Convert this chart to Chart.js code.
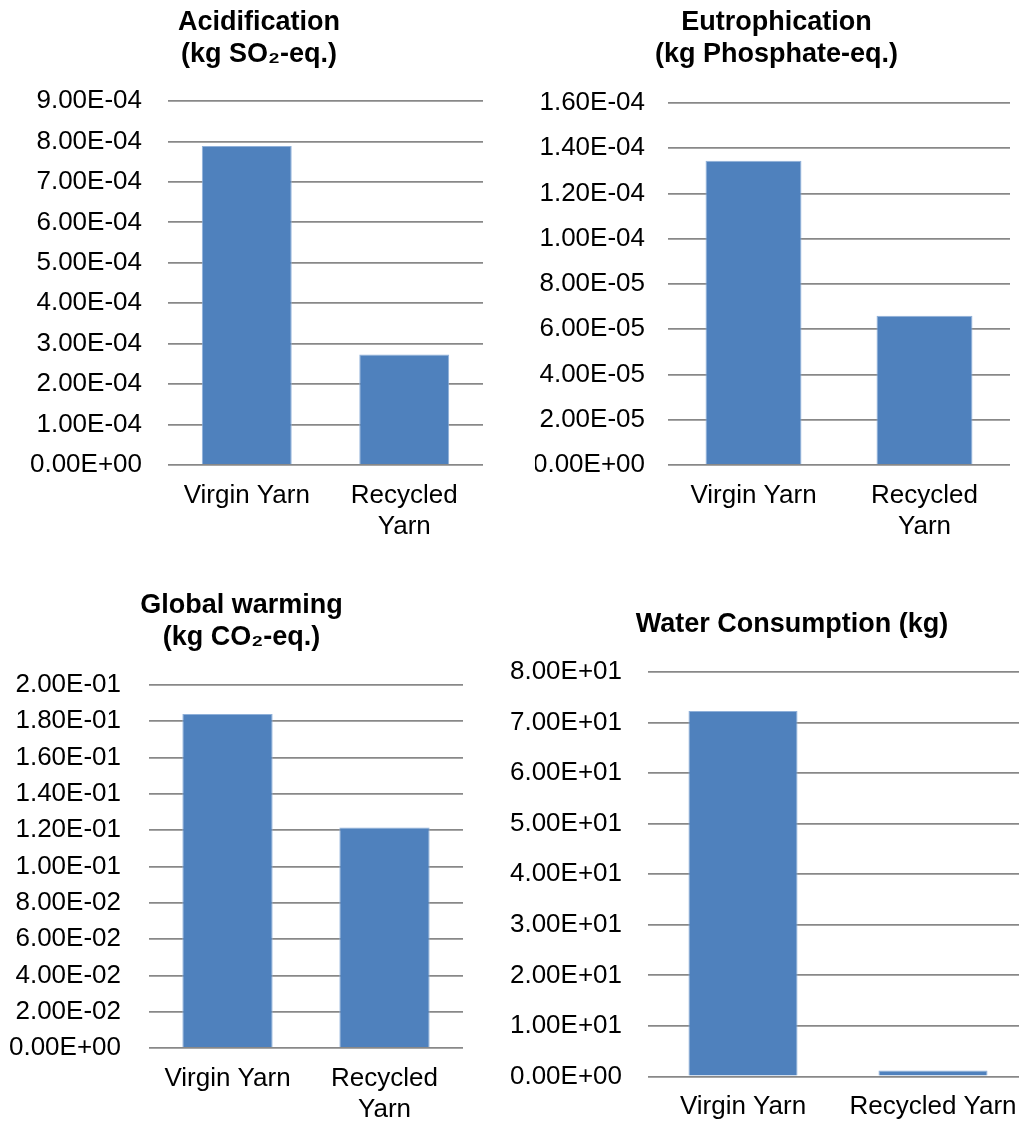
<!DOCTYPE html>
<html>
<head>
<meta charset="utf-8">
<title>Virgin vs Recycled Yarn – impact categories</title>
<script src="https://cdn.jsdelivr.net/npm/chart.js@4.4.1/dist/chart.umd.min.js"></script>
<style>
  html, body { margin: 0; padding: 0; background: #ffffff; overflow: hidden; }
  body { width: 1019px; height: 1124px; position: relative; }
  .panel { position: absolute; }
  .panel canvas { display: block; }
</style>
</head>
<body>
<div class="panel" style="left:0px;top:0px;width:516px;height:560px;"><canvas id="c1"></canvas></div>
<div class="panel" style="left:535px;top:0px;width:484px;height:560px;"><canvas id="c2"></canvas></div>
<div class="panel" style="left:0px;top:580px;width:483px;height:544px;"><canvas id="c3"></canvas></div>
<div class="panel" style="left:510px;top:580px;width:568px;height:544px;"><canvas id="c4"></canvas></div>
<script>
// Categories
const categories = ['Virgin Yarn', ['Recycled', 'Yarn']];
const categoriesWater = ['Virgin Yarn', 'Recycled Yarn'];

// Impact values per kg of yarn
const acidification = [7.89e-4, 2.73e-4];     // kg SO2-eq.
const eutrophication = [1.345e-4, 6.6e-5];    // kg Phosphate-eq.
const globalWarming = [0.184, 0.1215];        // kg CO2-eq.
const waterConsumption = [72.3, 1.2];         // kg

// Axis ranges: [min, max, step]
const acidAxis = [0, 9e-4, 1e-4];
const eutroAxis = [0, 1.6e-4, 2e-5];
const warmingAxis = [0, 0.2, 0.02];
const waterAxis = [0, 80, 10];

// Titles
const acidTitle = ['Acidification', '(kg SO\u2082-eq.)'];
const eutroTitle = ['Eutrophication', '(kg Phosphate-eq.)'];
const warmingTitle = ['Global warming', '(kg CO\u2082-eq.)'];
const waterTitle = 'Water Consumption (kg)';

const FONT = '"Liberation Sans", Arial, Helvetica, sans-serif';
const BAR_COLOR = '#4f81bd';
const GRID_COLOR = '#888888';

// Excel-style scientific notation, e.g. 9.00E-04
function sci(v) {
  if (Math.abs(v) < 1e-15) return '0.00E+00';
  const parts = Number(v).toExponential(2).split('e');
  const exp = parseInt(parts[1], 10);
  return parts[0] + 'E' + (exp < 0 ? '-' : '+') + String(Math.abs(exp)).padStart(2, '0');
}

// Moves the title block so it is centred on a given x position of the canvas
const titleCenter = {
  id: 'titleCenter',
  afterLayout(chart, args, opts) {
    const t = chart.titleBlock;
    if (!t || opts.x == null) return;
    const half = (t.right - t.left) / 2;
    t.left = opts.x - half;
    t.right = opts.x + half;
  }
};

function makeChart(canvasId, cfg) {
  const [min, max, step] = cfg.axis;
  return new Chart(document.getElementById(canvasId), {
    type: 'bar',
    plugins: [titleCenter],
    data: {
      labels: cfg.labels,
      datasets: [{
        data: cfg.values,
        backgroundColor: BAR_COLOR,
        borderColor: '#8fb0d9',
        borderWidth: 1,
        categoryPercentage: 1,
        barPercentage: cfg.barPct
      }]
    },
    options: {
      responsive: true,
      maintainAspectRatio: false,
      animation: false,
      layout: { padding: { left: 0, right: cfg.padRight, top: 0, bottom: 0 } },
      plugins: {
        legend: { display: false },
        tooltip: { enabled: false },
        titleCenter: { x: cfg.titleX },
        title: {
          display: true,
          text: cfg.title,
          color: '#000000',
          font: { family: FONT, size: 27, weight: 'bold', lineHeight: 1.2 },
          padding: { top: cfg.titleTop, bottom: cfg.titleBottom }
        }
      },
      scales: {
        x: {
          grid: { display: false, drawTicks: false },
          border: { display: false },
          ticks: {
            color: '#000000',
            font: { family: FONT, size: 26, lineHeight: 1.2 },
            padding: 15,
            maxRotation: 0,
            minRotation: 0,
            autoSkip: false
          },
          afterFit: (s) => { s.height = cfg.xHeight; s.paddingLeft = 0; s.paddingRight = 0; }
        },
        y: {
          min: min,
          max: max,
          grid: { color: GRID_COLOR, lineWidth: 1.8, drawTicks: false },
          border: { display: false },
          ticks: {
            stepSize: step,
            color: '#000000',
            font: { family: FONT, size: 26 },
            padding: cfg.tickPad,
            callback: (v) => sci(v)
          },
          afterFit: (s) => { s.width = cfg.yWidth; }
        }
      }
    }
  });
}

makeChart('c1', {
  labels: categories, values: acidification, axis: acidAxis, title: acidTitle,
  barPct: 0.571, padRight: 33, yWidth: 168, tickPad: 26, titleX: 259,
  titleTop: 6, titleBottom: 30.2, xHeight: 95
});
makeChart('c2', {
  labels: categories, values: eutrophication, axis: eutroAxis, title: eutroTitle,
  barPct: 0.561, padRight: 9, yWidth: 133, tickPad: 23, titleX: 241.5,
  titleTop: 6, titleBottom: 32.2, xHeight: 95
});
makeChart('c3', {
  labels: categories, values: globalWarming, axis: warmingAxis, title: warmingTitle,
  barPct: 0.575, padRight: 20, yWidth: 149, tickPad: 28, titleX: 241.5,
  titleTop: 9, titleBottom: 31.2, xHeight: 76
});
makeChart('c4', {
  labels: categoriesWater, values: waterConsumption, axis: waterAxis, title: waterTitle,
  barPct: 0.574, padRight: 50, yWidth: 138, tickPad: 26, titleX: 282,
  titleTop: 28, titleBottom: 31.6, xHeight: 47.5
});
</script>
</body>
</html>
